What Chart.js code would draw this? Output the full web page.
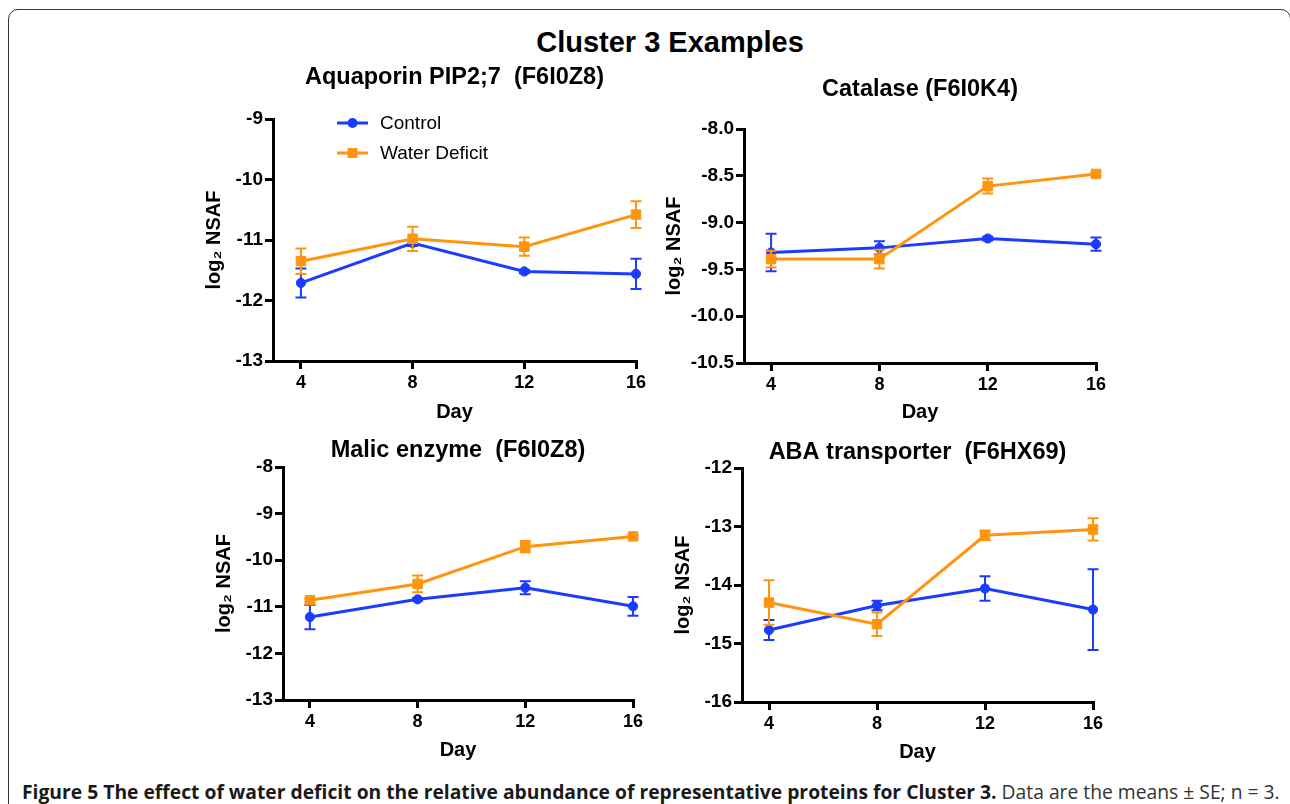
<!DOCTYPE html>
<html>
<head>
<meta charset="utf-8">
<script src="https://cdn.jsdelivr.net/npm/chart.js@4"></script>
<style>
  body { margin: 0; background: #fff; width: 1290px; height: 804px; overflow: hidden; position: relative;
         font-family: "Liberation Sans", Arial, sans-serif; }
  #frame { position: absolute; left: 8px; top: 9px; width: 1283px; height: 840px; box-sizing: border-box;
           border: 1.5px solid #333; border-radius: 10px; }
  #main-title { position: absolute; left: 0; width: 1340px; top: 25px; line-height: 34px; text-align: center;
                font-weight: bold; font-size: 29px; color: #000; }
  canvas { position: absolute; }
  #caption { position: absolute; left: 22px; top: 780px; line-height: 24px; white-space: nowrap;
             font-family: "Open Sans", sans-serif; font-size: 20px; color: #333; transform-origin: left center; }
  #caption b { color: #1a1a1a; }
</style>
</head>
<body>
<div id="frame"></div>
<div id="main-title">Cluster 3 Examples</div>
<canvas id="c1"></canvas>
<canvas id="c2"></canvas>
<canvas id="c3"></canvas>
<canvas id="c4"></canvas>
<div id="caption"><b>Figure 5 The effect of water deficit on the relative abundance of representative proteins for Cluster 3.</b> Data are the means ± SE; n = 3.</div>
<script>
// days sampled
const days = [4, 8, 12, 16];

// Aquaporin PIP2;7
const aquaporinControl   = [-11.71, -11.05, -11.52, -11.56];
const aquaporinControlSE = [0.24, 0.05, 0.03, 0.25];
const aquaporinDeficit   = [-11.35, -10.98, -11.11, -10.58];
const aquaporinDeficitSE = [0.21, 0.20, 0.15, 0.22];

// Catalase
const catalaseControl   = [-9.32, -9.27, -9.17, -9.23];
const catalaseControlSE = [0.20, 0.07, 0.02, 0.07];
const catalaseDeficit   = [-9.39, -9.39, -8.61, -8.48];
const catalaseDeficitSE = [0.09, 0.10, 0.08, 0.02];

// Malic enzyme
const malicControl   = [-11.22, -10.84, -10.59, -10.99];
const malicControlSE = [0.26, 0.03, 0.14, 0.20];
const malicDeficit   = [-10.86, -10.51, -9.71, -9.49];
const malicDeficitSE = [0.04, 0.18, 0.12, 0.03];

// ABA transporter
const abaControl   = [-14.77, -14.35, -14.06, -14.42];
const abaControlSE = [0.17, 0.08, 0.21, 0.69];
const abaDeficit   = [-14.30, -14.67, -13.15, -13.05];
const abaDeficitSE = [0.38, 0.20, 0.08, 0.19];

const seriesNames = ['Control', 'Water Deficit'];
const blue = '#1b3bff';
const orange = '#ff950f';

Chart.defaults.font.family = '"Liberation Sans", Arial, sans-serif';
Chart.defaults.color = '#000';

// left/top = canvas position, padTop = canvas top -> plot top, titleY = title centre above plot top
const panels = [
  { id: 'c1', title: 'Aquaporin PIP2;7  (F6I0Z8)', ctl: aquaporinControl, ctlSE: aquaporinControlSE,
    def: aquaporinDeficit, defSE: aquaporinDeficitSE, yMin: -13, yMax: -9, step: 1, dec: 0,
    left: 196, top: 60, yW: 77, plotW: 363, padTop: 59, plotH: 242, titleY: 41, dayPad: 2, legend: true },
  { id: 'c2', title: 'Catalase (F6I0K4)', ctl: catalaseControl, ctlSE: catalaseControlSE,
    def: catalaseDeficit, defSE: catalaseDeficitSE, yMin: -10.5, yMax: -8, step: 0.5, dec: 1,
    left: 656, top: 60, yW: 88, plotW: 352, padTop: 69, plotH: 234, titleY: 39, dayPad: 4 },
  { id: 'c3', title: 'Malic enzyme  (F6I0Z8)', ctl: malicControl, ctlSE: malicControlSE,
    def: malicDeficit, defSE: malicDeficitSE, yMin: -13, yMax: -8, step: 1, dec: 0,
    left: 206, top: 420, yW: 77, plotW: 350, padTop: 47, plotH: 233, titleY: 16, dayPad: 3 },
  { id: 'c4', title: 'ABA transporter  (F6HX69)', ctl: abaControl, ctlSE: abaControlSE,
    def: abaDeficit, defSE: abaDeficitSE, yMin: -16, yMax: -12, step: 1, dec: 0,
    left: 665, top: 420, yW: 77, plotW: 351, padTop: 48, plotH: 234, titleY: 15, dayPad: 3 }
];

const errorBars = {
  id: 'errorBars',
  beforeDatasetDraw(chart, args) {
    const ds = chart.data.datasets[args.index];
    if (!ds.errors) return;
    const xs = chart.scales.x, ys = chart.scales.y, ctx = chart.ctx;
    ctx.save();
    ctx.strokeStyle = ds.borderColor;
    ctx.lineWidth = 2;
    ds.data.forEach((p, i) => {
      const x = xs.getPixelForValue(p.x);
      const y1 = ys.getPixelForValue(p.y + ds.errors[i]);
      const y2 = ys.getPixelForValue(p.y - ds.errors[i]);
      ctx.beginPath();
      ctx.moveTo(x, y1); ctx.lineTo(x, y2);
      ctx.moveTo(x - 5.5, y1); ctx.lineTo(x + 5.5, y1);
      ctx.moveTo(x - 5.5, y2); ctx.lineTo(x + 5.5, y2);
      ctx.stroke();
    });
    ctx.restore();
  }
};

// title centred over the plot area, not over the whole canvas
const panelTitle = {
  id: 'panelTitle',
  afterDraw(chart, args, opts) {
    const a = chart.chartArea, ctx = chart.ctx;
    ctx.save();
    ctx.fillStyle = '#000';
    ctx.font = 'bold 23.5px "Liberation Sans", Arial, sans-serif';
    ctx.textAlign = 'center';
    ctx.textBaseline = 'middle';
    ctx.fillText(opts.text, (a.left + a.right) / 2, a.top - opts.offset);
    ctx.restore();
  }
};

const insideLegend = {
  id: 'insideLegend',
  afterDraw(chart, args, opts) {
    if (!opts.show) return;
    const a = chart.chartArea, ctx = chart.ctx;
    chart.data.datasets.forEach((ds, i) => {
      const y = a.top + 4 + i * 30;
      const x0 = a.left + 64, x1 = a.left + 95, xm = (x0 + x1) / 2;
      ctx.save();
      ctx.strokeStyle = ds.borderColor;
      ctx.fillStyle = ds.borderColor;
      ctx.lineWidth = 3;
      ctx.beginPath(); ctx.moveTo(x0, y); ctx.lineTo(x1, y); ctx.stroke();
      if (ds.pointStyle === 'rect') {
        ctx.fillRect(xm - 5, y - 5, 10, 10);
      } else {
        ctx.beginPath(); ctx.arc(xm, y, 5, 0, Math.PI * 2); ctx.fill();
      }
      ctx.fillStyle = '#000';
      ctx.font = '19px "Liberation Sans", Arial, sans-serif';
      ctx.textBaseline = 'middle';
      ctx.fillText(ds.label, a.left + 107, y + 1);
      ctx.restore();
    });
  }
};

function series(vals) {
  return days.map((d, i) => ({ x: d, y: vals[i] }));
}

panels.forEach(p => {
  const cv = document.getElementById(p.id);
  const w = p.yW + p.plotW + 14;
  const h = p.padTop + p.plotH + 65;
  cv.width = w; cv.height = h;
  cv.style.left = p.left + 'px'; cv.style.top = p.top + 'px';
  cv.style.width = w + 'px'; cv.style.height = h + 'px';

  const axisBorder = { display: true, width: 3, color: '#000' };
  const axisGrid = { display: true, drawOnChartArea: false, drawTicks: true, tickLength: 8, lineWidth: 3, color: '#000' };

  new Chart(cv.getContext('2d'), {
    type: 'line',
    data: {
      datasets: [
        { label: seriesNames[0], data: series(p.ctl), errors: p.ctlSE, borderColor: blue, backgroundColor: blue,
          borderWidth: 3, pointStyle: 'circle', pointRadius: 4.6, pointBorderWidth: 1, clip: false, order: 2 },
        { label: seriesNames[1], data: series(p.def), errors: p.defSE, borderColor: orange, backgroundColor: orange,
          borderWidth: 3, pointStyle: 'rect', pointRadius: 6.7, pointBorderWidth: 1, clip: false, order: 1 }
      ]
    },
    options: {
      responsive: false,
      animation: false,
      layout: { padding: { left: 0, right: 14, top: p.padTop, bottom: 0 } },
      plugins: {
        legend: { display: false },
        tooltip: { enabled: false },
        title: { display: false },
        insideLegend: { show: !!p.legend },
        panelTitle: { text: p.title, offset: p.titleY }
      },
      scales: {
        x: {
          type: 'linear', min: 3, max: 16,
          afterBuildTicks: s => { s.ticks = days.map(v => ({ value: v })); },
          afterFit: s => { s.height = 65; },
          border: axisBorder, grid: axisGrid,
          ticks: { padding: 3, font: { size: 18, weight: 'bold' }, color: '#000' },
          title: { display: true, text: 'Day', color: '#000', font: { size: 20, weight: 'bold' },
                   padding: { top: 0, bottom: p.dayPad } }
        },
        y: {
          min: p.yMin, max: p.yMax,
          afterFit: s => { s.width = p.yW; },
          border: axisBorder, grid: axisGrid,
          ticks: { stepSize: p.step, padding: 2, font: { size: 19, weight: 'bold' }, color: '#000',
                   callback: v => v.toFixed(p.dec) },
          title: { display: true, text: 'log\u2082 NSAF', color: '#000', font: { size: 20, weight: 'bold' },
                   padding: { top: 6, bottom: 0 } }
        }
      }
    },
    plugins: [errorBars, panelTitle, insideLegend]
  });
});

// squeeze the caption to its width in the figure
const cap = document.getElementById('caption');
cap.style.transform = 'scaleX(' + (1258 / cap.scrollWidth) + ')';
</script>
</body>
</html>
